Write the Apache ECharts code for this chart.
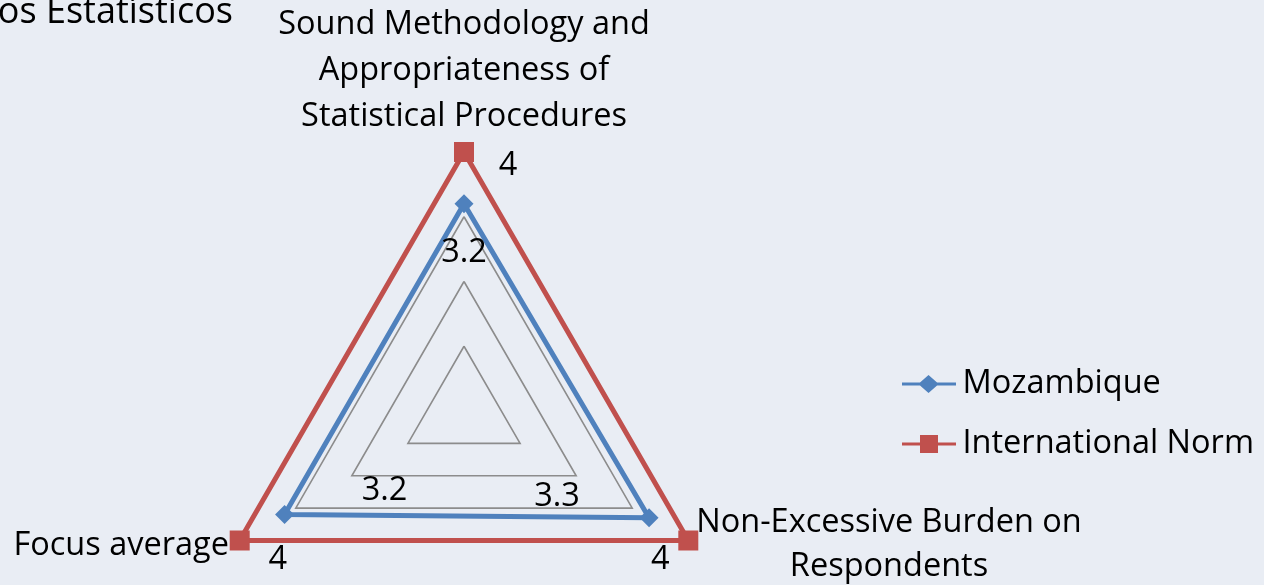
<!DOCTYPE html>
<html>
<head>
<meta charset="utf-8">
<script src="https://cdn.jsdelivr.net/npm/echarts@6/dist/echarts.min.js"></script>
<style>
html,body{margin:0;padding:0;background:#E9EDF4;}
#c{width:1264px;height:585px;}
</style>
</head>
<body>
<div id="c"></div>
<script>
// Data (indicator order as placed by the radar: top, lower-left, lower-right)
const categories = ['Sound Methodology and\nAppropriateness of\nStatistical Procedures', 'Focus average', 'Non-Excessive Burden on\nRespondents'];
const seriesNames = ['Mozambique', 'International Norm'];
const mozambique = [3.2, 3.2, 3.3];
const internationalNorm = [4, 4, 4];
const axisMax = 4;
const titleText = 'os Estatísticos';

const FONT = '"Open Sans", sans-serif';
const FS = 32.5;
const BLUE = '#4F81BD';
const RED = '#C0504D';
const CX = 464, CY = 411, R = 259;
const K = R / axisMax;      // pixels per unit
const Y_MIN = -2.5;         // lower extent of helper label grid

// label offsets (style only)
const mozOffsets = [[0, 49], [100, -24], [-92, -21]];
const normOffsets = [[44, 14], [38, 19], [-28, 19]];

function toXY(vals, offsets) {
  return vals.map((v, i) => {
    const a = (90 + i * 120) * Math.PI / 180;
    return {
      value: [v * Math.cos(a), v * Math.sin(a), v],
      label: { offset: offsets[i] }
    };
  });
}

const chart = echarts.init(document.getElementById('c'), null, { renderer: 'canvas' });
const labelStyle = { show: true, position: 'inside', color: '#000000', opacity: 1, fontSize: FS, fontFamily: FONT, textBorderWidth: 0, textBorderColor: 'transparent', formatter: p => String(p.value[2]) };
const option = {
  backgroundColor: '#E9EDF4',
  animation: false,
  textStyle: { fontFamily: FONT },
  radar: {
    center: [CX, CY],
    radius: R,
    startAngle: 90,
    splitNumber: 4,
    shape: 'polygon',
    indicator: categories.map(n => ({ name: n, min: 0, max: axisMax })),
    axisName: { show: false },
    axisLine: { show: false },
    axisTick: { show: false },
    axisLabel: { show: false },
    splitArea: { show: false },
    splitLine: { lineStyle: { color: '#8C8C8C', width: 1.6 } }
  },
  grid: { left: CX - R, top: CY - R, width: 2 * R, height: (axisMax - Y_MIN) * K },
  xAxis: { type: 'value', min: -axisMax, max: axisMax, show: false },
  yAxis: { type: 'value', min: Y_MIN, max: axisMax, show: false },
  legend: {
    orient: 'vertical',
    left: 897,
    top: 361,
    itemWidth: 57,
    itemHeight: 18,
    itemGap: 24,
    textStyle: { fontFamily: FONT, fontSize: FS, color: '#000', lineHeight: 36 },
    data: [
      { name: seriesNames[0], icon: 'path://M0,8 L19,8 L28,0 L37,8 L57,8 L57,11 L37,11 L28,19 L19,11 L0,11 Z' },
      { name: seriesNames[1], icon: 'path://M0,8 L19,8 L19,0 L38,0 L38,8 L57,8 L57,11 L38,11 L38,19 L19,19 L19,11 L0,11 Z' }
    ]
  },
  graphic: [
    { type: 'text', x: 233, y: -5, style: { text: titleText, font: '36px ' + FONT, fill: '#000', align: 'right', verticalAlign: 'top' } },
    { type: 'text', x: 464, y: 2, style: { text: categories[0], font: FS + 'px ' + FONT, fill: '#000', align: 'center', verticalAlign: 'top', lineHeight: 46 } },
    { type: 'text', x: 229, y: 546, style: { text: categories[1], font: FS + 'px ' + FONT, fill: '#000', align: 'right', verticalAlign: 'middle' } },
    { type: 'text', x: 889, y: 501, style: { text: categories[2], font: FS + 'px ' + FONT, fill: '#000', align: 'center', verticalAlign: 'top', lineHeight: 44 } }
  ],
  series: [
    {
      name: seriesNames[0],
      type: 'radar',
      symbol: 'diamond',
      symbolSize: 19,
      z: 3,
      lineStyle: { color: BLUE, width: 5 },
      itemStyle: { color: BLUE },
      data: [{ value: mozambique, name: seriesNames[0] }]
    },
    {
      name: seriesNames[1],
      type: 'radar',
      symbol: 'rect',
      symbolSize: 20,
      z: 3,
      lineStyle: { color: RED, width: 5 },
      itemStyle: { color: RED },
      data: [{ value: internationalNorm, name: seriesNames[1] }]
    },
    {
      type: 'scatter',
      name: 'labels-moz',
      symbol: 'circle',
      symbolSize: 1,
      itemStyle: { color: 'rgba(0,0,0,0)' },
      z: 5,
      silent: true,
      label: labelStyle,
      data: toXY(mozambique, mozOffsets)
    },
    {
      type: 'scatter',
      name: 'labels-norm',
      symbol: 'circle',
      symbolSize: 1,
      itemStyle: { color: 'rgba(0,0,0,0)' },
      z: 5,
      silent: true,
      label: labelStyle,
      data: toXY(internationalNorm, normOffsets)
    }
  ]
};
chart.setOption(option);
</script>
</body>
</html>
